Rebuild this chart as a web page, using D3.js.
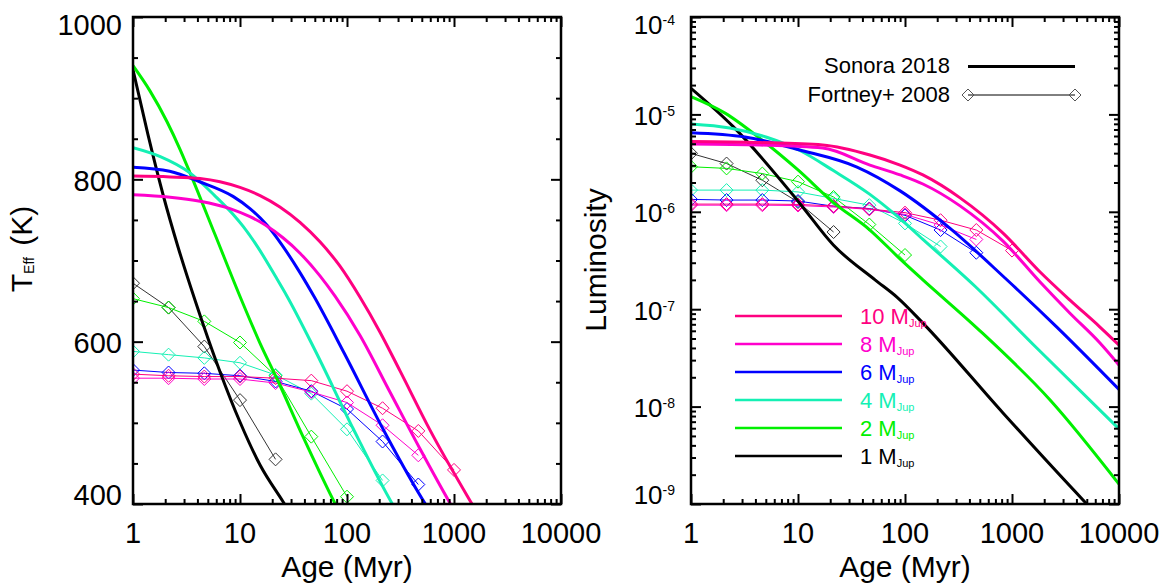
<!DOCTYPE html>
<html>
<head>
<meta charset="utf-8">
<script src="https://cdn.jsdelivr.net/npm/d3@7"></script>
<style>
  body { margin: 0; background: #fff; }
  svg { display: block; }
  text { font-family: "Liberation Sans", Arial, Helvetica, sans-serif; fill: #000; }
</style>
</head>
<body>
<svg id="chart" width="1171" height="586"></svg>
<script>
// ---- Planet masses (Jupiter masses) and their colours ----
const masses = [10, 8, 6, 4, 2, 1];
const massColors = ["#ff0080", "#ff00cc", "#0000ff", "#14f0b4", "#00f000", "#000000"];

// ---- Sonora 2018 cooling tracks: effective temperature (K) vs age (Myr) ----
const sonoraAgeT10 = [1, 2.22, 4.23, 6.5, 10, 15.4, 23.6, 36.4, 55.9, 86, 132, 203, 313, 597, 1473, 1828];
const sonoraTeff10 = [804, 803, 801, 797, 790, 780, 766, 747, 723, 693, 655, 612, 564, 491, 400, 379];
const sonoraAgeT8 = [1, 2.22, 4.23, 8.06, 12.4, 17.1, 25.2, 36.4, 55.9, 77.3, 132, 252, 481, 918, 1137];
const sonoraTeff8 = [781, 778, 773, 764, 754, 744, 728, 709, 681, 656, 608, 538, 468, 401, 380];
const sonoraAgeT6 = [1, 2.2, 4.2, 8.6, 12.4, 18, 25, 36, 50, 94, 222, 535, 650];
const sonoraTeff6 = [815, 810, 797, 779, 764, 743, 718, 686, 654, 586, 490, 401, 384];
const sonoraAgeT4 = [1, 1.8, 3.4, 5.8, 8.6, 10.7, 14.4, 22, 27.5, 50, 114, 263, 313];
const sonoraTeff4 = [839, 828, 808, 780, 757, 742, 718, 678, 656, 590, 493, 401, 384];
const sonoraAgeT2 = [1, 1.44, 2.08, 2.75, 3.41, 5.84, 10.35, 15.4, 22.2, 38.8, 77, 96];
const sonoraTeff2 = [940, 909, 871, 837, 808, 732, 651, 598, 554, 483, 401, 377];
const sonoraAgeT1 = [1, 1.38, 1.91, 2.63, 3.8, 6.5, 10, 15.4, 25.2, 30];
const sonoraTeff1 = [935, 855, 781, 717, 651, 563, 501, 448, 403, 387];

// ---- Sonora 2018 cooling tracks: luminosity (solar units) vs age (Myr) ----
const sonoraAgeL10 = [1, 4.4, 17, 47, 90, 147, 327, 824, 1830, 3480, 6640, 10000];
const sonoraLum10 = [5.27e-6, 5.14e-6, 4.85e-6, 3.83e-6, 3.02e-6, 2.39e-6, 1.39e-6, 6.05e-7, 2.41e-7, 1.24e-7, 6.56e-8, 4.28e-8];
const sonoraAgeL8 = [1, 4.4, 17, 47, 90, 147, 327, 824, 1830, 3480, 6640, 10000];
const sonoraLum8 = [4.97e-6, 4.85e-6, 4.52e-6, 3.02e-6, 2.39e-6, 1.93e-6, 1.15e-6, 5.0e-7, 1.90e-7, 9.1e-8, 4.5e-8, 2.67e-8];
const sonoraAgeL6 = [1, 3.2, 10.4, 35.6, 90, 264, 860, 2640, 10000];
const sonoraLum6 = [6.49e-6, 5.86e-6, 4.31e-6, 2.88e-6, 1.64e-6, 6.75e-7, 2.09e-7, 6.5e-8, 1.5e-8];
const sonoraAgeL4 = [1, 2.3, 5.1, 10.4, 21.4, 47, 84, 147, 451, 1640, 10000];
const sonoraLum4 = [7.96e-6, 7.24e-6, 5.83e-6, 4.26e-6, 2.65e-6, 1.51e-6, 9.06e-7, 5.21e-7, 1.72e-7, 4.17e-8, 5.9e-9];
const sonoraAgeL2 = [1, 2.08, 4.6, 10, 21.2, 47, 94, 147, 471, 2270, 10000];
const sonoraLum2 = [1.52e-5, 1.03e-5, 5.46e-6, 2.69e-6, 1.26e-6, 6.5e-7, 3.13e-7, 2.0e-7, 6.4e-8, 1.17e-8, 1.6e-9];
const sonoraAgeL1 = [1, 2.48, 10.1, 21.4, 52.5, 84, 147, 824, 4610, 6000];
const sonoraLum1 = [1.85e-5, 7.48e-6, 1.27e-6, 4.56e-7, 2.0e-7, 1.33e-7, 7.2e-8, 8.6e-9, 1.10e-9, 8.1e-10];

// ---- Fortney et al. 2008 grid (shared ages, Myr) ----
const fortneyAges = [1, 2.15, 4.64, 10, 21.5, 46.4, 100, 215, 464, 1000];
const fortneyTeff10 = [560, 558, 557, 557, 555, 552, 539, 518, 490, 442];
const fortneyTeff8 = [555, 555, 554, 554, 549, 538, 525, 497, 460];
const fortneyTeff6 = [565, 562, 561, 558, 551, 539, 517, 477, 424];
const fortneyTeff4 = [588, 584, 580, 574, 559, 536, 492, 429];
const fortneyTeff2 = [653, 642, 625, 599, 558, 483, 409];
const fortneyTeff1 = [672, 642, 594, 528, 455];
const fortneyLum10 = [1.20e-6, 1.20e-6, 1.20e-6, 1.19e-6, 1.15e-6, 1.07e-6, 9.8e-7, 8.2e-7, 6.5e-7, 4.0e-7];
const fortneyLum8 = [1.17e-6, 1.17e-6, 1.17e-6, 1.16e-6, 1.12e-6, 1.06e-6, 9.4e-7, 7.3e-7, 5.2e-7];
const fortneyLum6 = [1.34e-6, 1.32e-6, 1.32e-6, 1.29e-6, 1.14e-6, 1.08e-6, 9.2e-7, 6.5e-7, 3.8e-7];
const fortneyLum4 = [1.67e-6, 1.67e-6, 1.67e-6, 1.60e-6, 1.37e-6, 1.17e-6, 7.6e-7, 4.4e-7];
const fortneyLum2 = [2.90e-6, 2.79e-6, 2.47e-6, 2.04e-6, 1.42e-6, 7.4e-7, 3.6e-7];
const fortneyLum1 = [3.98e-6, 3.13e-6, 2.11e-6, 1.26e-6, 6.2e-7];

// ---- Axis ticks and labels ----
const ageTicks = [1, 10, 100, 1000, 10000];
const ageTickLabels = ["1", "10", "100", "1000", "10000"];
const teffTicks = [400, 600, 800, 1000];
const teffMinorTicks = [450, 500, 550, 650, 700, 750, 850, 900, 950];
const lumTicks = [1e-9, 1e-8, 1e-7, 1e-6, 1e-5, 1e-4];
const lumTickExponents = ["-9", "-8", "-7", "-6", "-5", "-4"];

// group the tracks per mass, in the same order as `masses`
const sonoraTeff = [
  [sonoraAgeT10, sonoraTeff10], [sonoraAgeT8, sonoraTeff8], [sonoraAgeT6, sonoraTeff6],
  [sonoraAgeT4, sonoraTeff4], [sonoraAgeT2, sonoraTeff2], [sonoraAgeT1, sonoraTeff1]];
const sonoraLum = [
  [sonoraAgeL10, sonoraLum10], [sonoraAgeL8, sonoraLum8], [sonoraAgeL6, sonoraLum6],
  [sonoraAgeL4, sonoraLum4], [sonoraAgeL2, sonoraLum2], [sonoraAgeL1, sonoraLum1]];
const fortneyTeff = [fortneyTeff10, fortneyTeff8, fortneyTeff6, fortneyTeff4, fortneyTeff2, fortneyTeff1];
const fortneyLum = [fortneyLum10, fortneyLum8, fortneyLum6, fortneyLum4, fortneyLum2, fortneyLum1];

const svg = d3.select("#chart");
const plotTop = 17, plotBottom = 504;

const xL = d3.scaleLog().domain([1, 10000]).range([133, 561]);
const yL = d3.scaleLinear().domain([400, 1000]).range([plotBottom, plotTop]);
const xR = d3.scaleLog().domain([1, 10000]).range([691, 1119]);
const yR = d3.scaleLog().domain([1e-9, 1e-4]).range([plotBottom, plotTop]);

const defs = svg.append("defs");
function clip(id, x) {
  defs.append("clipPath").attr("id", id).append("rect")
    .attr("x", x.range()[0]).attr("y", plotTop)
    .attr("width", x.range()[1] - x.range()[0]).attr("height", plotBottom - plotTop);
}
clip("clipL", xL);
clip("clipR", xR);

const zip = (a, b) => a.map((v, i) => [v, b[i]]);

function diamond(g, cx, cy, r, color) {
  g.append("path")
    .attr("d", `M${cx},${cy - r}L${cx + r},${cy}L${cx},${cy + r}L${cx - r},${cy}Z`)
    .attr("fill", "none").attr("stroke", color).attr("stroke-width", 1);
}

function drawPanel(x, y, clipId, sonora, fortney) {
  const g = svg.append("g").attr("clip-path", `url(#${clipId})`);
  const thin = d3.line().x(d => x(d[0])).y(d => y(d[1]));
  const smooth = d3.line().x(d => x(d[0])).y(d => y(d[1])).curve(d3.curveMonotoneX);
  // Fortney grid: thin lines with open diamonds (drawn lowest mass first)
  for (let i = masses.length - 1; i >= 0; i--) {
    const pts = zip(fortneyAges.slice(0, fortney[i].length), fortney[i]);
    const c = i === 5 ? "#333" : massColors[i];
    g.append("path").attr("d", thin(pts)).attr("fill", "none")
      .attr("stroke", c).attr("stroke-width", 1);
    pts.forEach(p => diamond(g, x(p[0]), y(p[1]), 6.5, c));
  }
  // Sonora tracks: thick smooth lines
  for (let i = masses.length - 1; i >= 0; i--) {
    const pts = zip(sonora[i][0], sonora[i][1]);
    g.append("path").attr("d", smooth(pts)).attr("fill", "none")
      .attr("stroke", massColors[i]).attr("stroke-width", 3);
  }
}

function styleAxis(sel) {
  sel.select(".domain").remove();
  sel.selectAll(".tick line").attr("stroke", "#000").attr("stroke-width", 2);
  sel.selectAll(".tick text").remove();
}

function ageAxes(x) {
  const minor = x.ticks().filter(v => !ageTicks.includes(v));
  svg.append("g").attr("transform", `translate(0,${plotBottom})`)
    .call(d3.axisBottom(x).tickValues(ageTicks).tickSize(-10).tickSizeOuter(0)).call(styleAxis);
  svg.append("g").attr("transform", `translate(0,${plotBottom})`)
    .call(d3.axisBottom(x).tickValues(minor).tickSize(-5).tickSizeOuter(0)).call(styleAxis);
  svg.append("g").attr("transform", `translate(0,${plotTop})`)
    .call(d3.axisTop(x).tickValues(ageTicks).tickSize(-10).tickSizeOuter(0)).call(styleAxis);
  svg.append("g").attr("transform", `translate(0,${plotTop})`)
    .call(d3.axisTop(x).tickValues(minor).tickSize(-5).tickSizeOuter(0)).call(styleAxis);
  ageTicks.forEach((v, i) => {
    svg.append("text").attr("x", x(v)).attr("y", 543).attr("text-anchor", "middle")
      .attr("font-size", 29).text(ageTickLabels[i]);
  });
  svg.append("text").attr("x", (x.range()[0] + x.range()[1]) / 2).attr("y", 577)
    .attr("text-anchor", "middle").attr("font-size", 30).text("Age (Myr)");
}

function valueAxes(x, y, major, minor) {
  const [x0, x1] = x.range();
  svg.append("g").attr("transform", `translate(${x0},0)`)
    .call(d3.axisLeft(y).tickValues(major).tickSize(-10).tickSizeOuter(0)).call(styleAxis);
  svg.append("g").attr("transform", `translate(${x0},0)`)
    .call(d3.axisLeft(y).tickValues(minor).tickSize(-5).tickSizeOuter(0)).call(styleAxis);
  svg.append("g").attr("transform", `translate(${x1},0)`)
    .call(d3.axisRight(y).tickValues(major).tickSize(-10).tickSizeOuter(0)).call(styleAxis);
  svg.append("g").attr("transform", `translate(${x1},0)`)
    .call(d3.axisRight(y).tickValues(minor).tickSize(-5).tickSizeOuter(0)).call(styleAxis);
  svg.append("rect").attr("x", x0).attr("y", plotTop).attr("width", x1 - x0)
    .attr("height", plotBottom - plotTop)
    .attr("fill", "none").attr("stroke", "#000").attr("stroke-width", 2.5);
}

// keep end labels inside the frame height
function labelShift(py) {
  if (py - plotTop < 2) return 8;
  if (plotBottom - py < 2) return -9;
  return 1;
}

// ---------- Left panel: effective temperature ----------
drawPanel(xL, yL, "clipL", sonoraTeff, fortneyTeff);
valueAxes(xL, yL, teffTicks, teffMinorTicks);
ageAxes(xL);
teffTicks.forEach(v => {
  const py = yL(v) + labelShift(yL(v));
  svg.append("text").attr("x", 122).attr("y", py + 10.4).attr("text-anchor", "end")
    .attr("font-size", 29).text(v);
});
const tTitle = svg.append("text").attr("transform", "translate(32,249) rotate(-90)")
  .attr("text-anchor", "middle").attr("font-size", 30);
tTitle.append("tspan").text("T");
tTitle.append("tspan").attr("font-size", 14).attr("dy", 2).text("Eff");
tTitle.append("tspan").attr("dy", -2).attr("dx", 3).text(" (K)");

// ---------- Right panel: luminosity ----------
const lumMinor = yR.ticks().filter(v => !lumTicks.some(t => Math.abs(t - v) / t < 1e-6));
drawPanel(xR, yR, "clipR", sonoraLum, fortneyLum);
valueAxes(xR, yR, lumTicks, lumMinor);
ageAxes(xR);
lumTicks.forEach((v, i) => {
  const py = yR(v) + labelShift(yR(v));
  const t = svg.append("text").attr("x", 675).attr("y", py + 9.3).attr("text-anchor", "end")
    .attr("font-size", 26);
  t.append("tspan").text("10");
  t.append("tspan").attr("font-size", 14).attr("dy", -9).text(lumTickExponents[i]);
});
svg.append("text").attr("transform", "translate(606,260) rotate(-90)")
  .attr("text-anchor", "middle").attr("font-size", 30).text("Luminosity");

// legend: model sets
svg.append("text").attr("x", 950).attr("y", 73).attr("text-anchor", "end")
  .attr("font-size", 22).text("Sonora 2018");
svg.append("line").attr("x1", 968).attr("x2", 1075).attr("y1", 66.5).attr("y2", 66.5)
  .attr("stroke", "#000").attr("stroke-width", 3);
svg.append("text").attr("x", 950).attr("y", 102).attr("text-anchor", "end")
  .attr("font-size", 22).text("Fortney+ 2008");
svg.append("line").attr("x1", 968).attr("x2", 1075).attr("y1", 95).attr("y2", 95)
  .attr("stroke", "#000").attr("stroke-width", 1);
diamond(svg, 968, 95, 6, "#555");
diamond(svg, 1075, 95, 6, "#555");

// legend: masses
masses.forEach((m, i) => {
  const ly = 316 + 28 * i;
  svg.append("line").attr("x1", 735).attr("x2", 842).attr("y1", ly).attr("y2", ly)
    .attr("stroke", massColors[i]).attr("stroke-width", 2.5);
  const t = svg.append("text").attr("x", 860).attr("y", ly + 7.5).attr("font-size", 22)
    .style("fill", massColors[i]);
  t.append("tspan").text(`${m} M`);
  t.append("tspan").attr("font-size", 11).attr("dy", 3).text("Jup");
});
</script>
</body>
</html>
